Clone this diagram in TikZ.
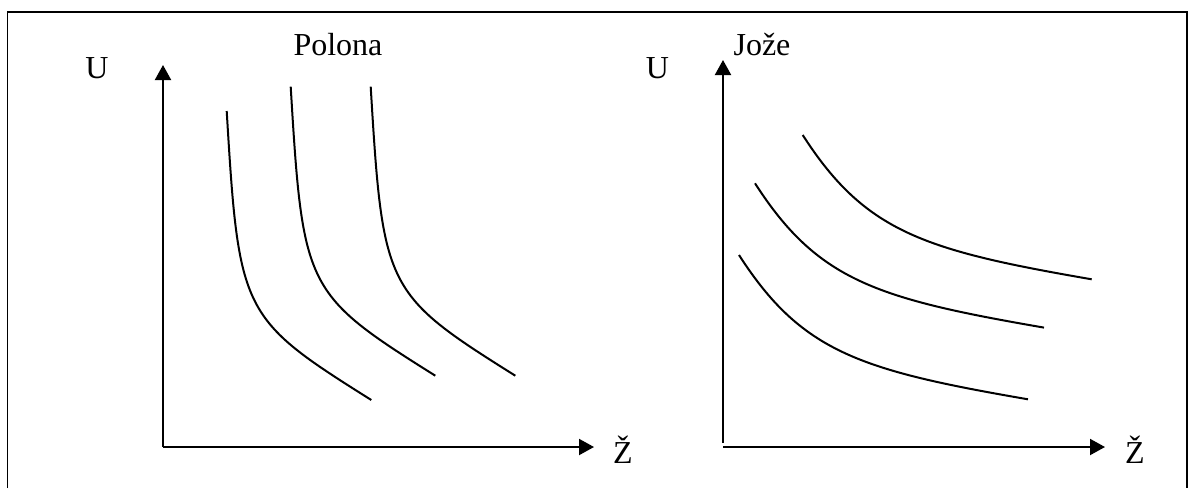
\documentclass[tikz,border=0pt]{standalone}
\usepackage{fontspec}
\setmainfont{Liberation Serif}
\usetikzlibrary{arrows.meta}

\tikzset{
  axis/.style={-{Triangle[length=7.5pt,width=8pt]}, line width=1pt},
  curve/.style={line width=1pt},
  lbl/.style={inner sep=0pt, anchor=base, font=\fontsize{16}{19}\selectfont},
  frame/.style={line width=0.6pt},
}

\begin{document}
\begin{tikzpicture}[x=0.5pt, y=-0.5pt]
  \useasboundingbox (0,0) rectangle (1189,488);
  \draw[frame] (7.5,488) -- (7.5,12) -- (1187,12) -- (1187,488);

  % labels
  \node[lbl] (polona) at (338,55)    {Polona};
  \node[lbl] (joze)   at (762,55)    {Jože};
  \node[lbl] (uL)     at (97,78)     {U};
  \node[lbl] (uR)     at (657.5,78)  {U};
  \node[lbl] (zL)     at (623,463)   {Ž};
  \node[lbl] (zR)     at (1135,463)  {Ž};

  % axes
  \coordinate (oL) at (163,447);
  \coordinate (yL) at (163,65);
  \coordinate (xL) at (594,447);
  \coordinate (oRy) at (723,443);
  \coordinate (oRx) at (723,447);
  \coordinate (yR) at (723,60);
  \coordinate (xR) at (1105,447);
  \draw[axis] (oL) -- (yL);
  \draw[axis] (oL) -- (xL);
  \draw[axis] (oRy) -- (yR);
  \draw[axis] (oRx) -- (xR);

  % Polona
  \foreach \dx/\dy in {-64/24.3, 0/0, 80/0}
    \draw[curve, shift={(290.7+\dx,86.7+\dy)}] (0,0)
      .. controls (12.2,202.8) and (14.2,207.1) .. (144.6,289);

  % Joze
  \foreach \dx/\dy in {0/0, -47.7/48.3, -63.7/120}
    \draw[curve, shift={(802.7+\dx,135+\dy)}] (0,0)
      .. controls (62.4,97.1) and (121,115.3) .. (289,144.3);
\end{tikzpicture}
\end{document}
